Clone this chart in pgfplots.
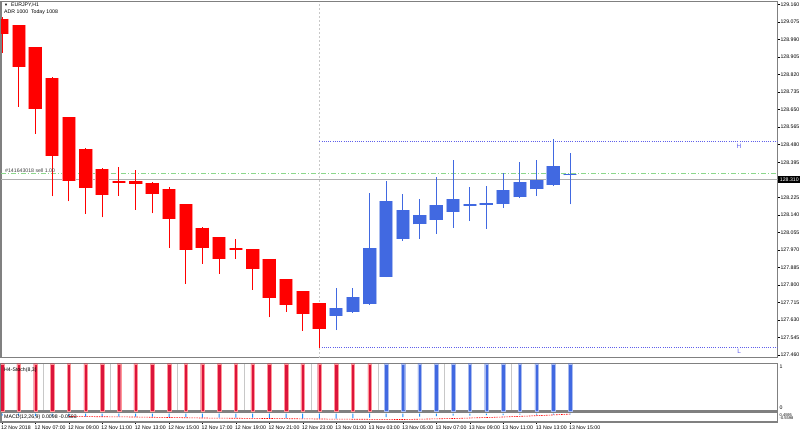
\documentclass[border=0pt]{standalone}
\usepackage{fontspec}
\setmainfont{Liberation Sans}
\usepackage{pgfplots}
\usepackage{pgfplotstable}
\pgfplotsset{compat=1.18}
\definecolor{mtred}{RGB}{255,0,0}
\definecolor{mtredl}{RGB}{255,150,150}
\definecolor{mtblue}{RGB}{65,105,225}
\definecolor{mtbluel}{RGB}{170,188,240}
\definecolor{crim}{RGB}{220,20,60}
\definecolor{bord}{RGB}{128,128,128}
\definecolor{hlc}{RGB}{95,95,235}
\definecolor{grn}{RGB}{140,215,140}
\definecolor{bidc}{RGB}{175,175,175}
\definecolor{sepc}{RGB}{200,200,200}
\definecolor{macdb}{RGB}{30,144,255}
\newcommand\mtf{\fontsize{5.2bp}{6bp}\selectfont}

\pgfplotstableread{
x y
0 128.927
0 129.100
0 nan
1 128.663
1 129.062
1 nan
2 128.533
2 128.956
2 nan
3 128.229
3 128.806
3 nan
4 128.205
4 128.616
4 nan
5 128.146
5 128.462
5 nan
6 128.127
6 128.365
6 nan
7 128.232
7 128.370
7 nan
8 128.164
8 128.359
8 nan
9 128.147
9 128.299
9 nan
10 127.981
10 128.276
10 nan
11 127.805
11 128.194
11 nan
12 127.903
12 128.080
12 nan
13 127.855
13 128.032
13 nan
14 127.928
14 128.023
14 nan
15 127.776
15 127.975
15 nan
16 127.643
16 127.928
16 nan
17 127.670
17 127.831
17 nan
18 127.577
18 127.771
18 nan
19 127.495
19 127.713
}\rwick

\pgfplotstableread{
x y
0 129.092
0 129.019
0 nan
1 129.059
1 128.857
1 nan
2 128.954
2 128.653
2 nan
3 128.804
3 128.423
3 nan
4 128.614
4 128.305
4 nan
5 128.460
5 128.268
5 nan
6 128.363
6 128.234
6 nan
7 128.303
7 128.295
7 nan
8 128.302
8 128.291
8 nan
9 128.295
9 128.241
9 nan
10 128.265
10 128.119
10 nan
11 128.192
11 127.967
11 nan
12 128.078
12 127.978
12 nan
13 128.030
13 127.928
13 nan
14 127.978
14 127.967
14 nan
15 127.973
15 127.878
15 nan
16 127.926
16 127.735
16 nan
17 127.829
17 127.704
17 nan
18 127.769
18 127.659
18 nan
19 127.711
19 127.588
}\rbody

\pgfplotstableread{
x y
20 127.581
20 127.784
20 nan
21 127.665
21 127.784
21 nan
22 127.704
22 128.245
22 nan
23 127.838
23 128.305
23 nan
24 128.014
24 128.242
24 nan
25 128.023
25 128.218
25 nan
26 128.049
26 128.325
26 nan
27 128.077
27 128.407
27 nan
28 128.111
28 128.275
28 nan
29 128.072
29 128.281
29 nan
30 128.175
30 128.343
30 nan
31 128.221
31 128.397
31 nan
32 128.231
32 128.407
32 nan
33 128.282
33 128.508
33 nan
34 128.190
34 128.440
}\bwick

\pgfplotstableread{
x y
20 127.651
20 127.687
20 nan
21 127.667
21 127.743
21 nan
22 127.706
22 127.980
22 nan
23 127.840
23 128.208
23 nan
24 128.023
24 128.163
24 nan
25 128.093
25 128.140
25 nan
26 128.117
26 128.189
26 nan
27 128.155
27 128.216
27 nan
28 128.185
28 128.193
28 nan
29 128.188
29 128.196
29 nan
30 128.192
30 128.260
30 nan
31 128.224
31 128.300
31 nan
32 128.263
32 128.309
32 nan
33 128.284
33 128.378
33 nan
34 128.331
34 128.337
}\bbody

\pgfplotstableread{
x y
0 1
1 1
2 1
3 1
4 1
5 1
6 1
7 1
8 1
9 1
10 1
11 1
12 1
13 1
14 1
15 1
16 1
17 1
18 1
19 1
20 1
21 1
22 1
}\stochred

\pgfplotstableread{
x y
23 1
24 1
25 1
26 1
27 1
28 1
29 1
30 1
31 1
32 1
33 1
34 1
}\stochblue

\pgfplotstableread{
x y
0 -2
1 -2
2 -2.5
3 -2.5
4 -3
5 -3
6 -3
7 -3
8 -3
9 -3
10 -3.5
11 -3.5
12 -4
13 -4
14 -4
15 -4
16 -4.5
17 -4.5
18 -5
19 -5
20 -5
21 -4.5
22 -4
23 -3.5
24 -3.5
25 -3
26 -2.5
27 -2
28 -2
29 -1.5
30 -1.5
31 -1
32 -1
33 -1
34 -0.8
}\macdhist

\pgfplotstableread{
x y
4 -3
8 -3.5
12 -4.5
16 -5
19 -5.5
22 -5.8
24 -6
27 -5
30 -3.5
32 -2.2
34 -0.6
}\macdsig

\pgfplotsset{
  mtpanel/.style={
    scale only axis, width=776.5bp,
    xmin=-0.06, xmax=46.42,
    axis line style={draw=bord, line width=1.2bp},
    clip mode=individual,
  },
}

\begin{document}
\begin{tikzpicture}
\path[use as bounding box] (0,0) rectangle (800bp,-433bp);

% ---------------- main price panel ----------------
\begin{axis}[mtpanel,
  at={(1bp,-1.5bp)}, anchor=north west, height=356bp,
  ymin=127.4479, ymax=129.1745,
  xtick=\empty,
  ytick={127.460,127.545,127.630,127.715,127.800,127.885,127.970,128.055,128.140,128.225,128.310,128.395,128.480,128.565,128.650,128.735,128.820,128.905,128.990,129.075,129.160},
  ytick pos=right, yticklabel pos=right,
  tick align=outside, major tick length=2.5bp,
  tick style={draw=black, line width=0.4bp},
  yticklabel style={font=\mtf, anchor=west, inner sep=0pt, xshift=0.3bp,
    /pgf/number format/fixed, /pgf/number format/fixed zerofill,
    /pgf/number format/precision=3, /pgf/number format/assume math mode=true},
]
% reference lines
\addplot[sepc, line width=0.6bp, dash pattern=on 2bp off 2bp] coordinates {(19,127.4479) (19,129.1745)};
\addplot[bidc, line width=0.9bp] coordinates {(-0.06,128.311) (46.42,128.311)};
\addplot[grn, line width=0.8bp, dash pattern=on 5bp off 2bp on 1bp off 2bp] coordinates {(-0.06,128.342) (46.42,128.342)};
\addplot[hlc, line width=0.7bp, dash pattern=on 1bp off 1.2bp] coordinates {(19,128.498) (46.42,128.498)};
\addplot[hlc, line width=0.7bp, dash pattern=on 1bp off 1.2bp] coordinates {(19,127.496) (46.42,127.496)};
% candles
\addplot[mtred, line width=1bp, unbounded coords=jump] table[x=x,y=y] {\rwick};
\addplot[mtredl, line width=14bp, unbounded coords=jump] table[x=x,y=y] {\rbody};
\addplot[mtred, line width=12.4bp, unbounded coords=jump] table[x=x,y=y] {\rbody};
\addplot[mtblue, line width=1bp, unbounded coords=jump] table[x=x,y=y] {\bwick};
\addplot[mtbluel, line width=14bp, unbounded coords=jump] table[x=x,y=y] {\bbody};
\addplot[mtblue, line width=12.4bp, unbounded coords=jump] table[x=x,y=y] {\bbody};
% annotations
\node[anchor=west, inner sep=0pt, font=\mtf] at (axis cs:0.12,129.155) {{\fontsize{4bp}{4bp}\selectfont ▼}\ \ EURJPY,H1};
\node[anchor=west, inner sep=0pt, font=\mtf] at (axis cs:0.12,129.121) {ADR 1000\ \ Today 1008};
\node[anchor=west, inner sep=0pt, font=\mtf, text=black!75] at (axis cs:0.18,128.356) {\#141643018 sell 1.00};
\node[inner sep=0pt, font=\fontsize{6.5bp}{7bp}\selectfont, text=hlc] at (axis cs:44.12,128.474) {H};
\node[inner sep=0pt, font=\fontsize{6.5bp}{7bp}\selectfont, text=hlc] at (axis cs:44.12,127.480) {L};
\node[anchor=west, fill=black, text=white, inner sep=0pt, minimum width=22bp, minimum height=7bp, font=\mtf, xshift=0.6bp] at (axis cs:46.42,128.311) {128.310};
\end{axis}

% ---------------- H4 stochastic panel ----------------
\begin{axis}[mtpanel,
  at={(1bp,-363.7bp)}, anchor=north west, height=47.3bp,
  ymin=0, ymax=1, ytick=\empty,
  xtick={2.5,6.5,10.5,14.5,18.5,22.5,26.5,30.5}, xticklabels={},
  major tick length=0pt,
  xmajorgrids, major grid style={draw=sepc, line width=0.7bp},
]
\addplot[ybar, bar width=3.5bp, fill=crim, draw=mtredl, line width=0.3bp] table[x=x,y=y] {\stochred};
\addplot[ybar, bar width=3.5bp, fill=mtblue, draw=mtbluel, line width=0.3bp] table[x=x,y=y] {\stochblue};
\node[anchor=west, inner sep=0pt, font=\mtf] at (axis cs:0.12,0.87) {H4-Stoch(8,3)};
\node[anchor=west, inner sep=0pt, font=\mtf, xshift=2bp] at (axis cs:46.42,0.93) {1};
\node[anchor=west, inner sep=0pt, font=\mtf, xshift=2bp] at (axis cs:46.42,0.06) {0};
\end{axis}

% ---------------- MACD panel ----------------
\begin{axis}[mtpanel,
  at={(1bp,-412.5bp)}, anchor=north west, height=9.5bp,
  ymin=-8.5, ymax=1, ytick=\empty,
  xtick={0,2,4,6,8,10,12,14,16,18,20,22,24,26,28,30,32,34},
  xticklabels={12 Nov 2018,12 Nov 07:00,12 Nov 09:00,12 Nov 11:00,12 Nov 13:00,12 Nov 15:00,12 Nov 17:00,12 Nov 19:00,12 Nov 21:00,12 Nov 23:00,13 Nov 01:00,13 Nov 03:00,13 Nov 05:00,13 Nov 07:00,13 Nov 09:00,13 Nov 11:00,13 Nov 13:00,13 Nov 15:00},
  xtick pos=bottom, tick align=outside, major tick length=2bp,
  tick style={draw=black, line width=0.4bp},
  xticklabel style={font=\mtf, anchor=north west, inner sep=0pt, xshift=-1bp, yshift=-1.5bp},
]
\addplot[ybar, bar width=1bp, fill=macdb, draw=none] table[x=x,y=y] {\macdhist};
\addplot[mtred, line width=0.6bp, dash pattern=on 1.5bp off 1bp] table[x=x,y=y] {\macdsig};
\node[anchor=west, inner sep=0pt, font=\mtf] at (axis cs:0.12,-3.5) {MACD(12,26,9) 0.0098 -0.0503};
\node[anchor=west, inner sep=0pt, font=\fontsize{4bp}{4bp}\selectfont, xshift=2bp] at (axis cs:46.42,-1.2) {0.4595};
\node[anchor=west, inner sep=0pt, font=\fontsize{4bp}{4bp}\selectfont, xshift=2bp] at (axis cs:46.42,-4.6) {-0.5598};
\end{axis}
\end{tikzpicture}
\end{document}
